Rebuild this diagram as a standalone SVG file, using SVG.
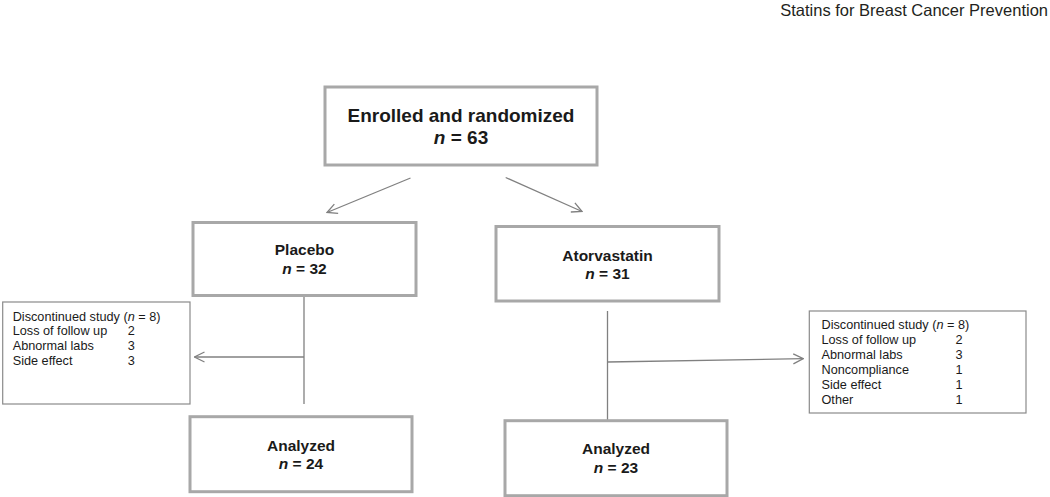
<svg xmlns="http://www.w3.org/2000/svg" width="1050" height="497" viewBox="0 0 1050 497">
  <style>
    text { font-family: "Liberation Sans", Arial, sans-serif; fill: #1a1a1a; }
    .big { stroke: #a8a8a8; stroke-width: 3; fill: #ffffff; }
    .thin { stroke: #8a8a8a; stroke-width: 1.2; fill: #ffffff; }
    .b1 { font-size: 19px; font-weight: bold; text-anchor: middle; }
    .b2 { font-size: 15.5px; font-weight: bold; text-anchor: middle; }
    .sm { font-size: 12.7px; }
    .conn { stroke: #808080; stroke-width: 1.3; fill: none; }
    .hdr { font-size: 16.5px; text-anchor: end; fill: #231f20; }
    .it { font-style: italic; }
  </style>
  <defs>
    <marker id="arr" viewBox="0 0 12 12" refX="11" refY="6" markerWidth="12" markerHeight="12" markerUnits="userSpaceOnUse" orient="auto">
      <path d="M1,1 L11,6 L1,11" fill="none" stroke="#808080" stroke-width="1.3"/>
    </marker>
  </defs>
  <rect width="1050" height="497" fill="#ffffff"/>
  <text class="hdr" x="1048" y="16">Statins for Breast Cancer Prevention</text>

  <g id="connectors">
    <line class="conn" x1="410.5" y1="178" x2="327" y2="212.5" marker-end="url(#arr)"/>
    <line class="conn" x1="505.7" y1="177.5" x2="582" y2="211.5" marker-end="url(#arr)"/>
    <line class="conn" x1="304" y1="296" x2="304" y2="404"/>
    <line class="conn" x1="304" y1="357" x2="194.5" y2="357" marker-end="url(#arr)"/>
    <line class="conn" x1="607.5" y1="311" x2="607.5" y2="420"/>
    <line class="conn" x1="607.5" y1="362" x2="803.3" y2="358.7" marker-end="url(#arr)"/>
  </g>

  <g id="enrolled">
    <rect class="big" x="325" y="87" width="272" height="78"/>
    <text class="b1" x="461" y="121.7">Enrolled and randomized</text>
    <text class="b1" x="461" y="144.3"><tspan class="it">n</tspan> = 63</text>
  </g>

  <g id="placebo">
    <rect class="big" x="193" y="222.5" width="223" height="73"/>
    <text class="b2" x="304.5" y="255">Placebo</text>
    <text class="b2" x="304.5" y="274"><tspan class="it">n</tspan> = 32</text>
  </g>

  <g id="atorvastatin">
    <rect class="big" x="496" y="226.5" width="223" height="74.5"/>
    <text class="b2" x="607.5" y="260.7">Atorvastatin</text>
    <text class="b2" x="607.5" y="279.3"><tspan class="it">n</tspan> = 31</text>
  </g>

  <g id="discontinued-placebo">
    <rect class="thin" x="2.7" y="302" width="187.3" height="102"/>
    <text class="sm" x="12.7" y="320.5">Discontinued study (<tspan class="it">n</tspan> = 8)</text>
    <text class="sm" x="12.7" y="335">Loss of follow up</text>
    <text class="sm" x="127.7" y="335">2</text>
    <text class="sm" x="12.7" y="350">Abnormal labs</text>
    <text class="sm" x="127.7" y="350">3</text>
    <text class="sm" x="12.7" y="365">Side effect</text>
    <text class="sm" x="127.7" y="365">3</text>
  </g>

  <g id="discontinued-atorvastatin">
    <rect class="thin" x="809.3" y="311" width="216.7" height="102"/>
    <text class="sm" x="821.5" y="329.3">Discontinued study (<tspan class="it">n</tspan> = 8)</text>
    <text class="sm" x="821.5" y="344.3">Loss of follow up</text>
    <text class="sm" x="955.5" y="344.3">2</text>
    <text class="sm" x="821.5" y="359.3">Abnormal labs</text>
    <text class="sm" x="955.5" y="359.3">3</text>
    <text class="sm" x="821.5" y="374.3">Noncompliance</text>
    <text class="sm" x="955.5" y="374.3">1</text>
    <text class="sm" x="821.5" y="389.3">Side effect</text>
    <text class="sm" x="955.5" y="389.3">1</text>
    <text class="sm" x="821.5" y="404.3">Other</text>
    <text class="sm" x="955.5" y="404.3">1</text>
  </g>

  <g id="analyzed-placebo">
    <rect class="big" x="190" y="416.7" width="222" height="75"/>
    <text class="b2" x="301" y="450.7">Analyzed</text>
    <text class="b2" x="301" y="469"><tspan class="it">n</tspan> = 24</text>
  </g>

  <g id="analyzed-atorvastatin">
    <rect class="big" x="505" y="420.7" width="222" height="75"/>
    <text class="b2" x="616" y="454.3">Analyzed</text>
    <text class="b2" x="616" y="473.3"><tspan class="it">n</tspan> = 23</text>
  </g>
</svg>
